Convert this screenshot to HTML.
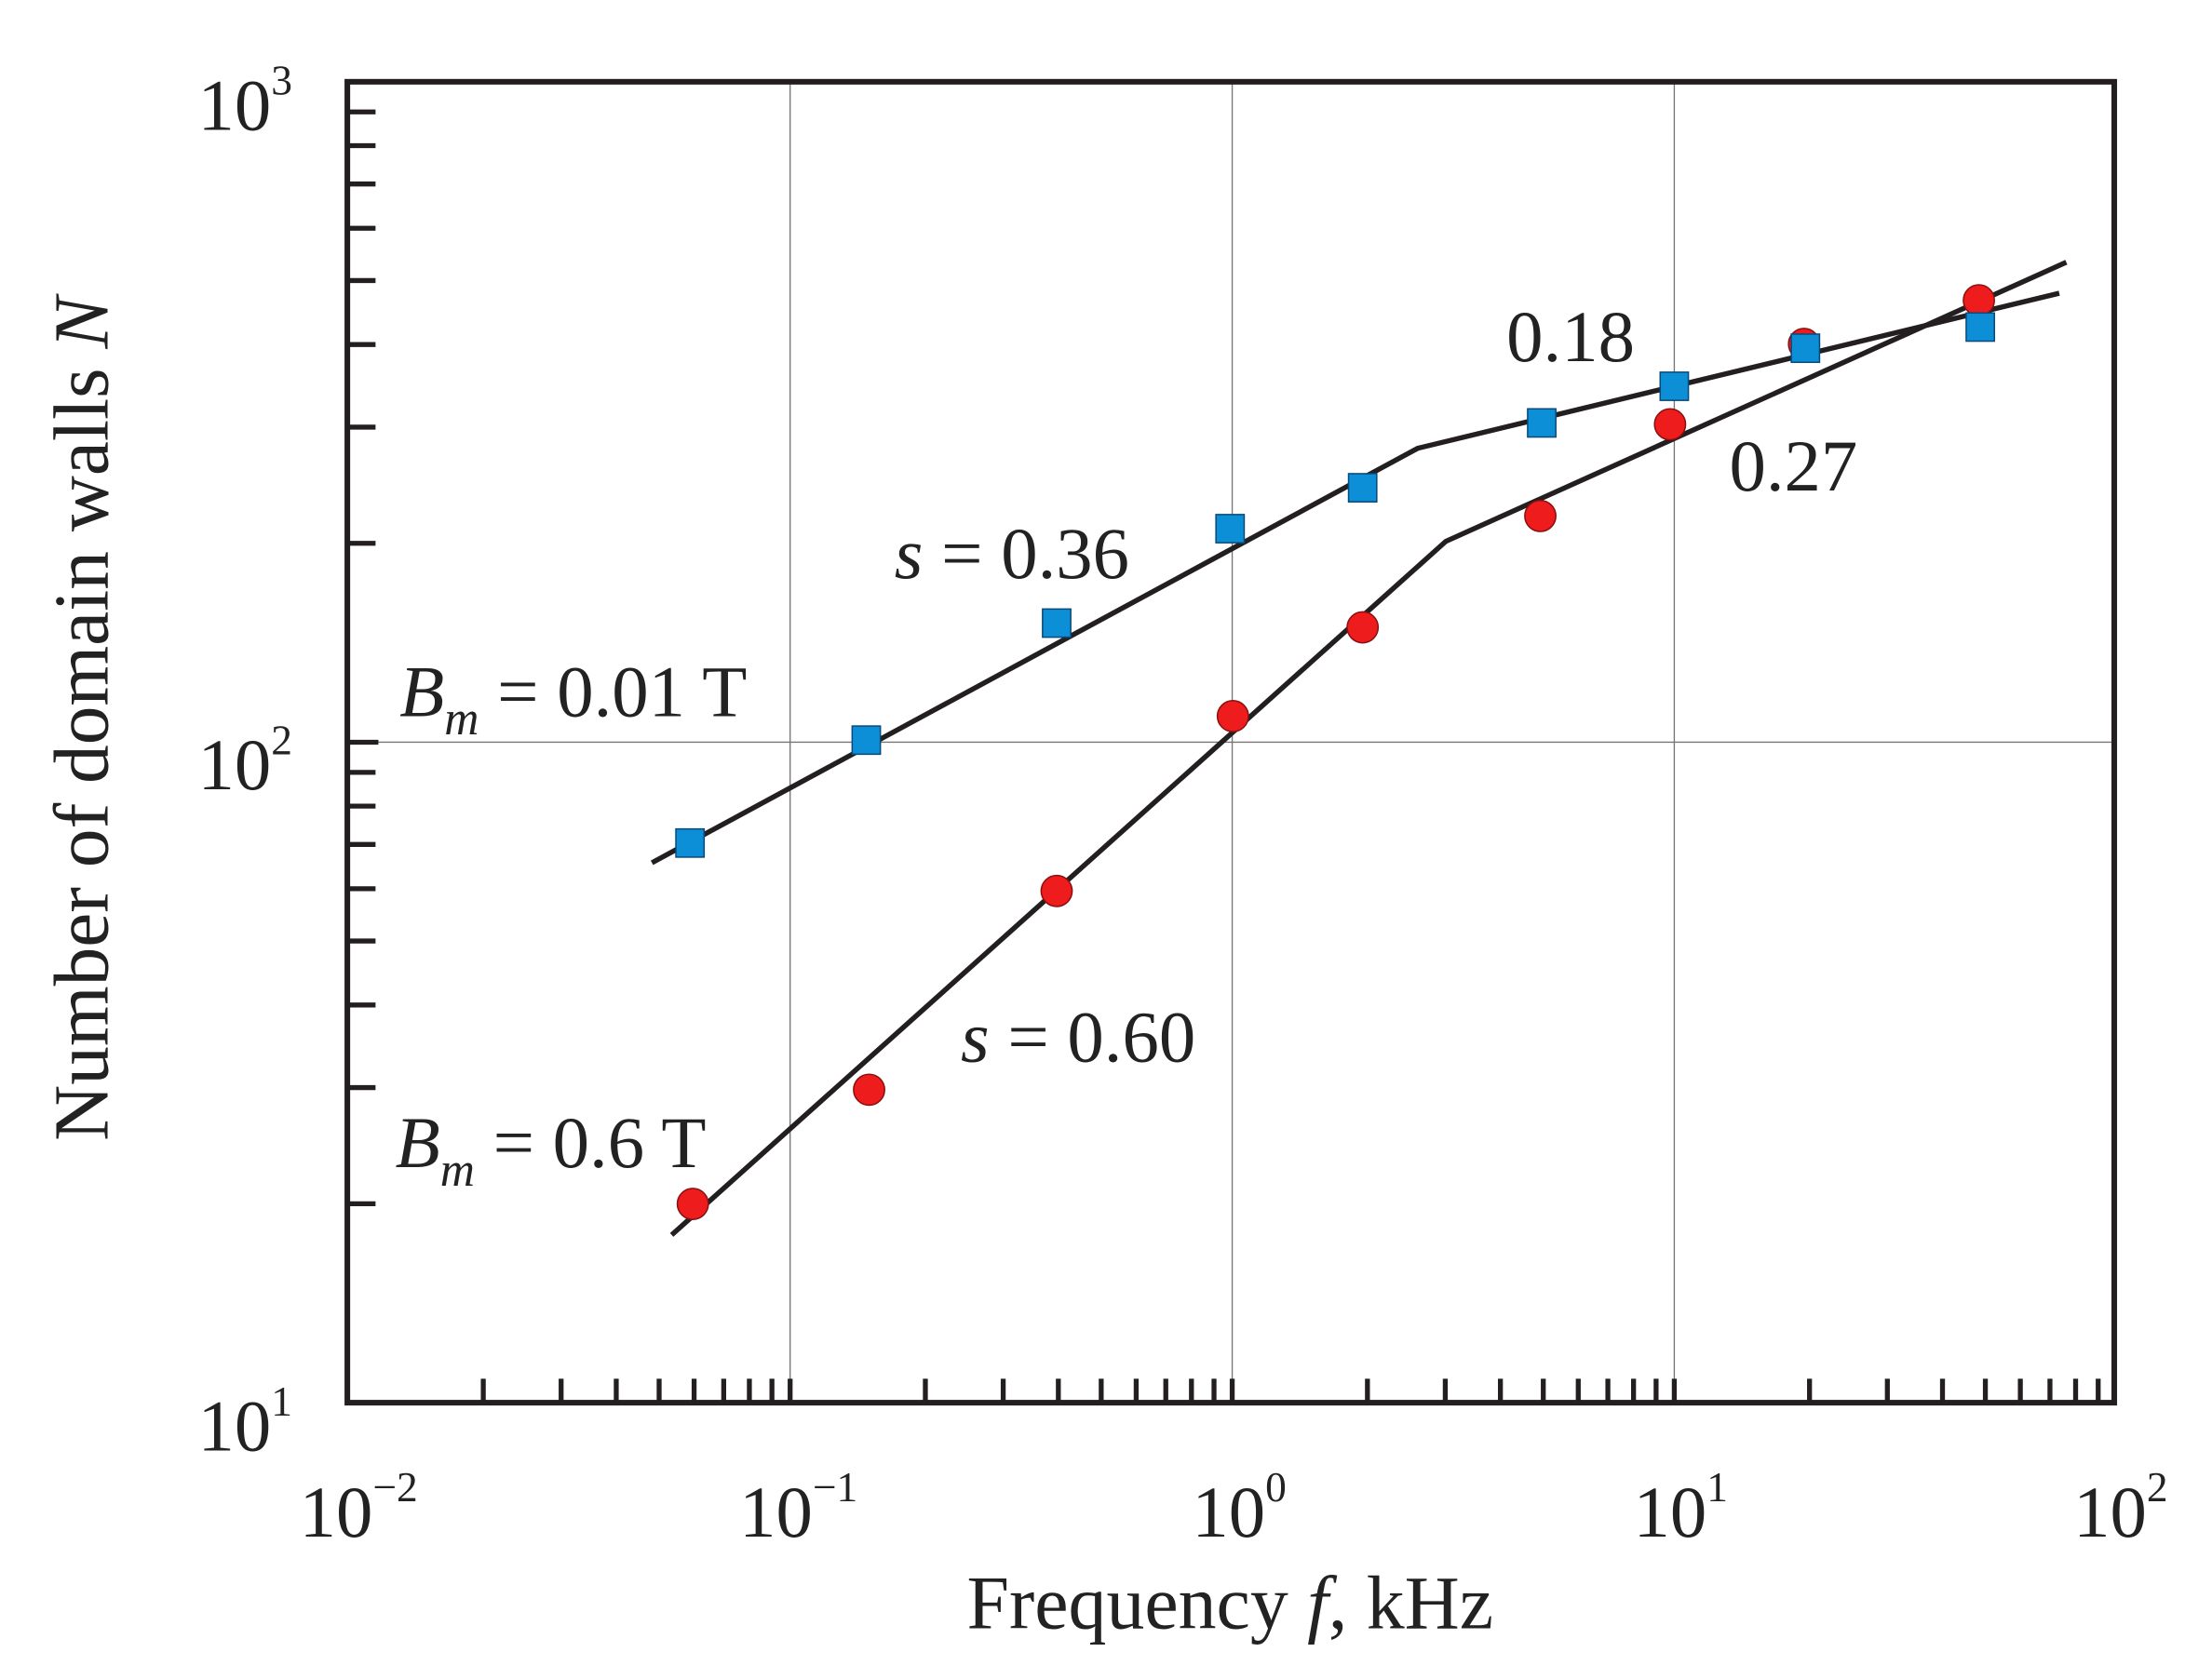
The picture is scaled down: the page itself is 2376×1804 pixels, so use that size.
<!DOCTYPE html>
<html><head><meta charset="utf-8"><style>
html,body{margin:0;padding:0;background:#fff}
svg{display:block}
text{font-family:"Liberation Serif",serif;fill:#222}
</style></head><body>
<svg width="2376" height="1804" viewBox="0 0 1568 1191" xmlns="http://www.w3.org/2000/svg">
<rect width="1568" height="1191" fill="#fff"/>
<g stroke="#777" stroke-width="0.9">
<line x1="560" y1="58" x2="560" y2="995"/>
<line x1="873.5" y1="58" x2="873.5" y2="995"/>
<line x1="1187" y1="58" x2="1187" y2="995"/>
<line x1="246" y1="526.5" x2="1499" y2="526.5"/>
</g>
<g stroke="#231f20" stroke-width="3.5">
<line x1="246" y1="58" x2="268" y2="58"/><line x1="246" y1="526.5" x2="268" y2="526.5"/>
<line x1="246" y1="853.9" x2="266" y2="853.9"/><line x1="246" y1="771.5" x2="266" y2="771.5"/><line x1="246" y1="712.9" x2="266" y2="712.9"/><line x1="246" y1="667.5" x2="266" y2="667.5"/><line x1="246" y1="630.4" x2="266" y2="630.4"/><line x1="246" y1="599.0" x2="266" y2="599.0"/><line x1="246" y1="571.8" x2="266" y2="571.8"/><line x1="246" y1="547.9" x2="266" y2="547.9"/>
<line x1="246" y1="385.4" x2="266" y2="385.4"/><line x1="246" y1="303.0" x2="266" y2="303.0"/><line x1="246" y1="244.4" x2="266" y2="244.4"/><line x1="246" y1="199.0" x2="266" y2="199.0"/><line x1="246" y1="161.9" x2="266" y2="161.9"/><line x1="246" y1="130.5" x2="266" y2="130.5"/><line x1="246" y1="103.3" x2="266" y2="103.3"/><line x1="246" y1="79.4" x2="266" y2="79.4"/>
<line x1="342.4" y1="995" x2="342.4" y2="978"/><line x1="397.6" y1="995" x2="397.6" y2="978"/><line x1="436.7" y1="995" x2="436.7" y2="978"/><line x1="467.1" y1="995" x2="467.1" y2="978"/><line x1="491.9" y1="995" x2="491.9" y2="978"/><line x1="512.9" y1="995" x2="512.9" y2="978"/><line x1="531.1" y1="995" x2="531.1" y2="978"/><line x1="547.1" y1="995" x2="547.1" y2="978"/><line x1="560" y1="995" x2="560" y2="978"/>
<line x1="655.9" y1="995" x2="655.9" y2="978"/><line x1="711.1" y1="995" x2="711.1" y2="978"/><line x1="750.2" y1="995" x2="750.2" y2="978"/><line x1="780.6" y1="995" x2="780.6" y2="978"/><line x1="805.4" y1="995" x2="805.4" y2="978"/><line x1="826.4" y1="995" x2="826.4" y2="978"/><line x1="844.6" y1="995" x2="844.6" y2="978"/><line x1="860.6" y1="995" x2="860.6" y2="978"/><line x1="873.5" y1="995" x2="873.5" y2="978"/>
<line x1="969.4" y1="995" x2="969.4" y2="978"/><line x1="1024.6" y1="995" x2="1024.6" y2="978"/><line x1="1063.7" y1="995" x2="1063.7" y2="978"/><line x1="1094.1" y1="995" x2="1094.1" y2="978"/><line x1="1118.9" y1="995" x2="1118.9" y2="978"/><line x1="1139.9" y1="995" x2="1139.9" y2="978"/><line x1="1158.1" y1="995" x2="1158.1" y2="978"/><line x1="1174.1" y1="995" x2="1174.1" y2="978"/><line x1="1187" y1="995" x2="1187" y2="978"/>
<line x1="1282.9" y1="995" x2="1282.9" y2="978"/><line x1="1338.1" y1="995" x2="1338.1" y2="978"/><line x1="1377.2" y1="995" x2="1377.2" y2="978"/><line x1="1407.6" y1="995" x2="1407.6" y2="978"/><line x1="1432.4" y1="995" x2="1432.4" y2="978"/><line x1="1453.4" y1="995" x2="1453.4" y2="978"/><line x1="1471.6" y1="995" x2="1471.6" y2="978"/><line x1="1487.6" y1="995" x2="1487.6" y2="978"/>
</g>
<rect x="246" y="58" width="1253" height="937" fill="none" stroke="#231f20" stroke-width="4"/>
<g fill="none" stroke="#231f20" stroke-width="3.6">
<polyline points="462,612 1005,318 1460,208"/>
<polyline points="476,876 1025,384 1465,186"/>
</g>
<g fill="#ee1c1c" stroke="#8a1010" stroke-width="1">
<circle cx="491" cy="854" r="11"/><circle cx="616" cy="773" r="11"/><circle cx="749" cy="632" r="11"/><circle cx="874" cy="508" r="11"/><circle cx="966" cy="445" r="11"/><circle cx="1092" cy="366" r="11"/><circle cx="1184" cy="301" r="11"/><circle cx="1279" cy="244" r="11"/><circle cx="1403" cy="213" r="11"/>
</g>
<g fill="#0d8fd8" stroke="#0a4a7a" stroke-width="1">
<rect x="479" y="588" width="20" height="20"/><rect x="604" y="515" width="20" height="20"/><rect x="739" y="432" width="20" height="20"/><rect x="862" y="365" width="20" height="20"/><rect x="956" y="336" width="20" height="20"/><rect x="1083" y="290" width="20" height="20"/><rect x="1177" y="264" width="20" height="20"/><rect x="1270" y="237" width="20" height="20"/><rect x="1394" y="222" width="20" height="20"/>
</g>
<g font-size="52">
<text x="140" y="92">10<tspan font-size="30" dy="-25">3</tspan></text>
<text x="140" y="560">10<tspan font-size="30" dy="-25">2</tspan></text>
<text x="140" y="1029">10<tspan font-size="30" dy="-25">1</tspan></text>
<text x="212" y="1090">10<tspan font-size="30" dy="-25">−2</tspan></text>
<text x="524" y="1090">10<tspan font-size="30" dy="-25">−1</tspan></text>
<text x="845" y="1090">10<tspan font-size="30" dy="-25">0</tspan></text>
<text x="1158" y="1090">10<tspan font-size="30" dy="-25">1</tspan></text>
<text x="1470" y="1090">10<tspan font-size="30" dy="-25">2</tspan></text>
</g>
<text x="872" y="1155" font-size="54" text-anchor="middle">Frequency <tspan font-style="italic">f</tspan>, kHz</text>
<text transform="translate(76,510) rotate(-90)" font-size="55" text-anchor="middle">Number of domain walls <tspan font-style="italic">N</tspan></text>
<g font-size="52">
<text x="283" y="508"><tspan font-style="italic">B</tspan><tspan font-style="italic" font-size="34" dy="13">m</tspan><tspan dy="-13"> = 0.01 T</tspan></text>
<text x="634" y="410"><tspan font-style="italic">s</tspan> = 0.36</text>
<text x="1068" y="256">0.18</text>
<text x="1226" y="348">0.27</text>
<text x="681" y="753"><tspan font-style="italic">s</tspan> = 0.60</text>
<text x="280" y="828"><tspan font-style="italic">B</tspan><tspan font-style="italic" font-size="34" dy="13">m</tspan><tspan dy="-13"> = 0.6 T</tspan></text>
</g>
</svg>
</body></html>
